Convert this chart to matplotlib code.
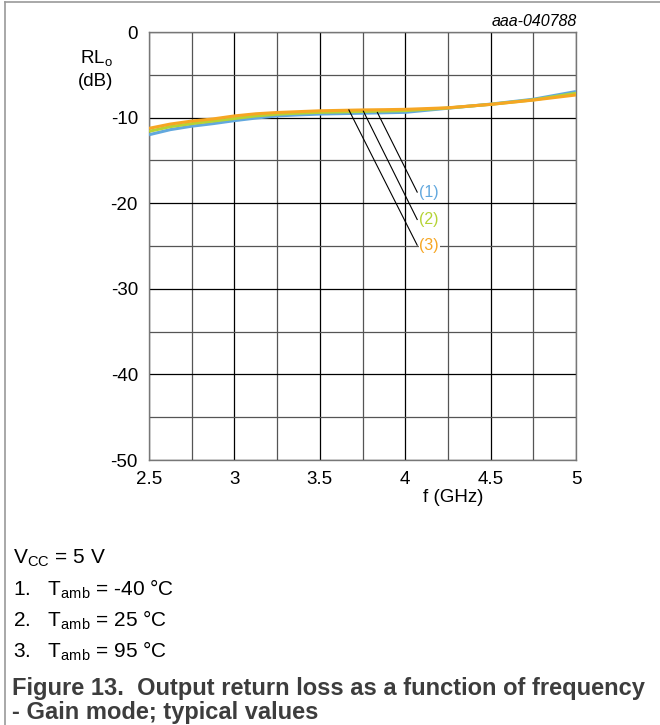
"""Output return loss vs frequency, gain mode (datasheet Figure 13)."""
import matplotlib
matplotlib.use("Agg")
import matplotlib.pyplot as plt
from matplotlib.lines import Line2D
from matplotlib.ticker import MultipleLocator

plt.rcParams["font.family"] = ["Liberation Sans", "DejaVu Sans"]

freq = [2.5, 2.625, 2.75, 2.875, 3.0, 3.125, 3.25, 3.375, 3.5, 3.625,
        3.75, 3.875, 4.0, 4.25, 4.5, 4.75, 5.0]
rl_m40 = [-12.0, -11.4, -11.0, -10.7, -10.35, -10.05, -9.8, -9.68, -9.58,
          -9.53, -9.48, -9.43, -9.38, -8.9, -8.42, -7.85, -6.95]
rl_25 = [-11.6, -11.05, -10.7, -10.4, -10.1, -9.8, -9.6, -9.48, -9.38,
         -9.33, -9.28, -9.23, -9.18, -8.87, -8.45, -7.92, -7.15]
rl_95 = [-11.25, -10.75, -10.4, -10.15, -9.8, -9.55, -9.4, -9.3, -9.2,
         -9.15, -9.1, -9.07, -9.03, -8.85, -8.45, -7.95, -7.35]

labels = ["(1)", "(2)", "(3)"]
colors = ["#62a8de", "#b5d335", "#f6a623"]
# leader line: start on curve (f, dB) -> end at label (f, dB)
lead_start = [(3.837, -9.4), (3.755, -9.25), (3.67, -9.1)]
lead_end = [(4.07, -18.7), (4.07, -21.9), (4.07, -24.9)]

fig = plt.figure(figsize=(6.6, 7.25), dpi=100)
ax = fig.add_axes([0.2258, 0.3655, 0.6470, 0.5903])

for y, c in zip([rl_m40, rl_25, rl_95], colors):
    ax.plot(freq, y, color=c, lw=2.2, solid_capstyle="butt", zorder=3)

for (x0, y0), (x1, y1), lab, c in zip(lead_start, lead_end, labels, colors):
    ax.plot([x0, x1], [y0, y1], color="black", lw=0.8, zorder=4)
    ax.text(x1 + 0.012, y1, lab, color=c, fontsize=11.5, va="center",
            ha="left", bbox=dict(facecolor="white", edgecolor="none", pad=0.5),
            zorder=5)

ax.set_xlim(2.5, 5)
ax.set_ylim(-50, 0)
ax.xaxis.set_major_locator(MultipleLocator(0.5))
ax.xaxis.set_minor_locator(MultipleLocator(0.25))
ax.yaxis.set_major_locator(MultipleLocator(10))
ax.yaxis.set_minor_locator(MultipleLocator(5))
ax.xaxis.set_major_formatter(plt.FuncFormatter(lambda v, p: f"{v:g}"))
ax.yaxis.set_major_formatter(plt.FuncFormatter(lambda v, p: f"{v:g}"))
ax.grid(which="major", color="black", lw=0.9)
ax.grid(which="minor", color="#555555", lw=0.9)
ax.set_axisbelow(True)
ax.tick_params(which="both", length=0, labelsize=13.5, pad=8)
for s in ax.spines.values():
    s.set_color("#777777")
    s.set_linewidth(1)

fig.text(96 / 660, 1 - 59 / 725, "RL$_\\mathregular{o}$", ha="center",
         va="center", fontsize=13.5)
fig.text(96 / 660, 1 - 81 / 725, "(dB)", ha="center", va="center",
         fontsize=13.5)
fig.text(453 / 660, 1 - 497 / 725, "f (GHz)", ha="center", va="center",
         fontsize=13.5)
fig.text(577 / 660, 1 - 22 / 725, "aaa-040788", ha="right", va="center",
         fontsize=11.5, style="italic")

notes = ["V$_\\mathregular{CC}$ = 5 V",
         "1.   T$_\\mathregular{amb}$ = -40 °C",
         "2.   T$_\\mathregular{amb}$ = 25 °C",
         "3.   T$_\\mathregular{amb}$ = 95 °C"]
note_y = [558, 589, 620, 651]
for t, yy in zip(notes, note_y):
    fig.text(13 / 660, 1 - yy / 725, t, ha="left", va="center", fontsize=15)
fig.text(12 / 660, 1 - 688 / 725,
         "Figure 13.  Output return loss as a function of frequency",
         ha="left", va="center", fontsize=17, fontweight="bold",
         color="#3d3d3d")
fig.text(12 / 660, 1 - 712 / 725, "- Gain mode; typical values",
         ha="left", va="center", fontsize=17, fontweight="bold",
         color="#3d3d3d")

# page frame (left + top edges)
fig.add_artist(Line2D([5 / 660, 5 / 660], [0, 1 - 2 / 725],
                      color="#999999", lw=1.2, transform=fig.transFigure))
fig.add_artist(Line2D([5 / 660, 1], [1 - 2 / 725, 1 - 2 / 725],
                      color="#999999", lw=1.2, transform=fig.transFigure))

fig.savefig("out.png", dpi=100)
